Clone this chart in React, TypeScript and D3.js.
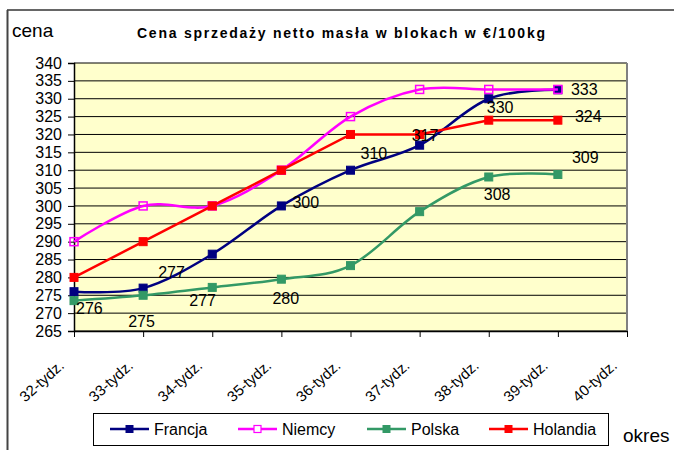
import React, { useEffect, useRef } from 'react';
import * as d3 from 'd3';

// tygodnie (oś X) - 40-tydz. bez danych
const weeks = ['32-tydz.', '33-tydz.', '34-tydz.', '35-tydz.', '36-tydz.', '37-tydz.', '38-tydz.', '39-tydz.', '40-tydz.'];
const yTicks = [265, 270, 275, 280, 285, 290, 295, 300, 305, 310, 315, 320, 325, 330, 335, 340];

// ceny w €/100kg
const francja = [276, 277, 286.5, 300, 310, 317, 330, 332.5];
const niemcy = [290, 300, 300, 310, 325, 332.6, 332.6, 332.6];
const polska = [273.5, 275, 277.2, 279.5, 283.3, 298.4, 308.1, 308.8];
const holandia = [280, 290, 300, 310, 320, 320, 324, 324];

// etykiety danych
const francjaLabels = ['276', '277', null, '300', '310', '317', '330', '333'];
const polskaLabels = [null, '275', '277', '280', null, null, '308', '309'];
const holandiaLabels = [null, null, null, null, null, null, null, '324'];

const FONT = '"Liberation Sans", Arial, sans-serif';

const App = () => {
  const ref = useRef<SVGSVGElement>(null);

  useEffect(() => {
    const width = 674;
    const height = 450;
    const plot = { left: 74, right: 627, top: 63, bottom: 331 };

    const svg = d3.select(ref.current)
      .attr('width', width)
      .attr('height', height);

    svg.selectAll('*').remove();

    svg.append('rect').attr('width', width).attr('height', height).attr('fill', 'white');

    // ramka
    svg.append('line')
      .attr('x1', 7).attr('x2', width).attr('y1', 10).attr('y2', 10)
      .attr('stroke', '#333').attr('stroke-width', 1.5);
    svg.append('line')
      .attr('x1', 7.5).attr('x2', 7.5).attr('y1', 10).attr('y2', height)
      .attr('stroke', '#444').attr('stroke-width', 2);

    const x = d3.scalePoint<string>()
      .domain(weeks)
      .range([plot.left, plot.right]);

    const y = d3.scaleLinear()
      .domain([265, 340])
      .range([plot.bottom, plot.top]);

    // tło
    svg.append('rect')
      .attr('x', plot.left).attr('y', plot.top)
      .attr('width', plot.right - plot.left).attr('height', plot.bottom - plot.top)
      .attr('fill', '#FFFFCC');

    // siatka
    svg.append('g')
      .selectAll('line')
      .data(yTicks)
      .enter().append('line')
      .attr('x1', plot.left).attr('x2', plot.right)
      .attr('y1', d => y(d)).attr('y2', d => y(d))
      .attr('stroke', '#000').attr('stroke-width', 1);

    // prawa krawędź
    svg.append('line')
      .attr('x1', plot.right).attr('x2', plot.right).attr('y1', plot.top).attr('y2', plot.bottom)
      .attr('stroke', '#808080').attr('stroke-width', 2);

    // oś Y
    const yAxis = svg.append('g')
      .attr('transform', `translate(${plot.left},0)`)
      .call(d3.axisLeft(y).tickValues(yTicks).tickSize(6).tickPadding(6).tickFormat(d3.format('d')));
    yAxis.select('.domain').attr('stroke', '#000').attr('stroke-width', 1.5);
    yAxis.selectAll('.tick line').attr('stroke', '#000');
    yAxis.selectAll('text')
      .attr('font-family', FONT).attr('font-size', 16).attr('fill', '#000');

    // oś X
    const xAxis = svg.append('g')
      .attr('transform', `translate(0,${plot.bottom})`)
      .call(d3.axisBottom(x).tickSize(6).tickSizeOuter(0));
    xAxis.select('.domain').attr('stroke', '#000').attr('stroke-width', 1.5);
    xAxis.selectAll('.tick line').attr('stroke', '#000');
    xAxis.selectAll('.tick text').remove();

    svg.append('g')
      .selectAll('text')
      .data(weeks)
      .enter().append('text')
      .attr('transform', d => `translate(${(x(d) as number) - 9},${plot.bottom + 36}) rotate(-42)`)
      .attr('text-anchor', 'end')
      .attr('font-family', FONT).attr('font-size', 15).attr('fill', '#000')
      .text(d => d);

    const series = [
      { name: 'Francja', values: francja, color: '#000080', open: false, smooth: true },
      { name: 'Niemcy', values: niemcy, color: '#FF00FF', open: true, smooth: true },
      { name: 'Polska', values: polska, color: '#339966', open: false, smooth: true },
      { name: 'Holandia', values: holandia, color: '#FF0000', open: false, smooth: false },
    ];

    series.forEach(s => {
      const line = d3.line<number>()
        .x((d, i) => x(weeks[i]) as number)
        .y(d => y(d))
        .curve(s.smooth ? d3.curveCardinal.tension(0) : d3.curveLinear);

      svg.append('path')
        .datum(s.values)
        .attr('d', line)
        .attr('fill', 'none')
        .attr('stroke', s.color)
        .attr('stroke-width', 2.5);

      svg.append('g')
        .selectAll('rect')
        .data(s.values)
        .enter().append('rect')
        .attr('x', (d, i) => (x(weeks[i]) as number) - 4)
        .attr('y', d => y(d) - 4)
        .attr('width', 8).attr('height', 8)
        .attr('fill', s.open ? 'none' : s.color)
        .attr('stroke', s.color)
        .attr('stroke-width', s.open ? 1.5 : 1);
    });

    // etykiety danych (przesunięcia jak w oryginale)
    const labelSets = [
      { values: francja, labels: francjaLabels, dx: [2, 15, 0, 11, 10, -8, -2, 13], dy: [22, -10, 0, 2, -11, -4, 14, 5] },
      { values: polska, labels: polskaLabels, dx: [0, -15, -23, -9, 0, 0, -5, 14], dy: [0, 32, 19, 25, 0, 0, 23, -11] },
      { values: holandia, labels: holandiaLabels, dx: [0, 0, 0, 0, 0, 0, 0, 17], dy: [0, 0, 0, 0, 0, 0, 0, 2] },
    ];

    labelSets.forEach(set => {
      set.labels.forEach((lab, i) => {
        if (!lab) return;
        svg.append('text')
          .attr('x', (x(weeks[i]) as number) + set.dx[i])
          .attr('y', y(set.values[i]) + set.dy[i])
          .attr('font-family', FONT).attr('font-size', 16).attr('fill', '#000')
          .text(lab);
      });
    });

    // tytuły
    svg.append('text')
      .attr('x', 12).attr('y', 37)
      .attr('font-family', FONT).attr('font-size', 19)
      .text('cena');

    svg.append('text')
      .attr('x', 137).attr('y', 38)
      .attr('font-family', FONT).attr('font-size', 14).attr('font-weight', 'bold')
      .attr('textLength', 408).attr('lengthAdjust', 'spacing')
      .text('Cena sprzedaży netto masła w blokach w €/100kg');

    svg.append('text')
      .attr('x', 623).attr('y', 442)
      .attr('font-family', FONT).attr('font-size', 19)
      .text('okres');

    // legenda
    const legend = svg.append('g');
    legend.append('rect')
      .attr('x', 93.5).attr('y', 413.5).attr('width', 515).attr('height', 32)
      .attr('fill', 'white').attr('stroke', '#000').attr('stroke-width', 1);

    const legendX = [110, 238, 367, 489];
    series.forEach((s, i) => {
      const lx = legendX[i];
      const ly = 429;
      legend.append('line')
        .attr('x1', lx).attr('x2', lx + 39).attr('y1', ly).attr('y2', ly)
        .attr('stroke', s.color).attr('stroke-width', 2.5);
      legend.append('rect')
        .attr('x', lx + 16).attr('y', ly - 3.5).attr('width', 7).attr('height', 7)
        .attr('fill', s.open ? 'white' : s.color)
        .attr('stroke', s.color).attr('stroke-width', s.open ? 1.2 : 1);
      legend.append('text')
        .attr('x', lx + 44).attr('y', ly + 6)
        .attr('font-family', FONT).attr('font-size', 16).attr('fill', '#000')
        .text(s.name);
    });
  }, []);

  return (
    <svg ref={ref} style={{ position: 'absolute', left: 0, top: 0, display: 'block' }}></svg>
  );
};

export default App;
